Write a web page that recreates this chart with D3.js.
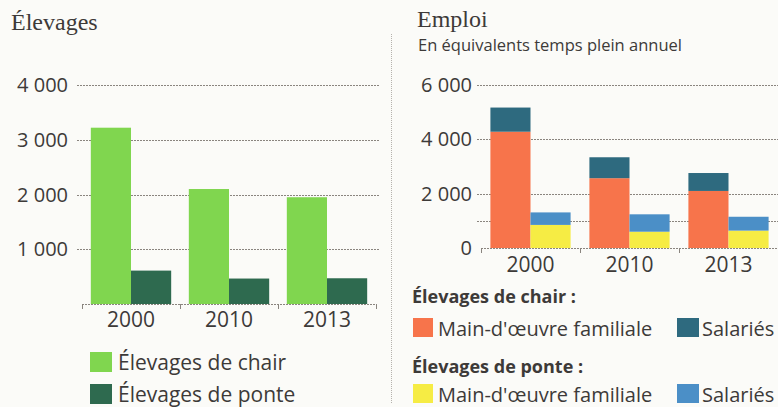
<!DOCTYPE html>
<html lang="fr">
<head>
    <meta charset="UTF-8">
    <title>elevages-emploi</title>
    <script src="https://cdn.jsdelivr.net/npm/d3@7"></script>
    <style>
        body{ margin: 0; background: #fbfbf8; }
        svg{ display: block; }
        .tick-label, .year{ font-family: "Open Sans", sans-serif; fill: #3d3a38; }
        .title{ font-family: "Liberation Serif", "DejaVu Serif", serif; fill: #3d3a38; }
        .legend{ font-family: "Open Sans", sans-serif; fill: #3d3a38; }
    </style>
</head>
<body>
<svg id="chart"></svg>
<script>
    // données
    var years = ['2000', '2010', '2013'];

    // graphique de gauche : nombre d'élevages
    var elevChair = [3220, 2100, 1950];
    var elevPonte = [610, 465, 470];
    var leftTicks = [1000, 2000, 3000, 4000];

    // graphique de droite : emploi (ETP)
    var chairFamille = [4280, 2570, 2100];
    var chairSalaries = [890, 770, 660];
    var ponteFamille = [850, 600, 640];
    var ponteSalaries = [460, 640, 510];
    var rightTicks = [0, 2000, 4000, 6000];
    var rightGrid = [1000, 2000, 4000, 6000];

    var colors = {
        chair: '#80d64f',
        ponte: '#2e6a4f',
        chairFam: '#f7744b',
        chairSal: '#2e6a7f',
        ponteFam: '#f6ec44',
        ponteSal: '#4b8fc7'
    };

    var width = 778, height = 407;
    var svg = d3.select('#chart').attr('width', width).attr('height', height);

    // séparateur
    svg.append('line')
        .attr('x1', 391.5).attr('x2', 391.5)
        .attr('y1', 34).attr('y2', 404)
        .attr('stroke', '#b5b2ad').attr('stroke-width', 1)
        .attr('stroke-dasharray', '1,1');

    function gridLines(g, y, values, x0, x1) {
        g.selectAll('.grid')
            .data(values)
            .enter()
            .append('line')
            .attr('class', 'grid')
            .attr('x1', x0).attr('x2', x1)
            .attr('y1', function (d) { return Math.round(y(d)) + 0.5; })
            .attr('y2', function (d) { return Math.round(y(d)) + 0.5; })
            .attr('stroke', '#8a857f')
            .attr('stroke-width', 1)
            .attr('stroke-dasharray', '2,1');
    }

    function tickLabels(g, y, values, xRight) {
        g.selectAll('.tick-label')
            .data(values)
            .enter()
            .append('text')
            .attr('class', 'tick-label')
            .attr('x', xRight)
            .attr('y', function (d) { return y(d) + 7; })
            .attr('text-anchor', 'end')
            .attr('font-size', 20)
            .text(function (d) { return d3.format(',')(d).replace(',', ' '); });
    }

    function baseAxis(g, x, y0, yearY) {
        var r = x.range();
        g.append('line')
            .attr('x1', r[0]).attr('x2', r[1])
            .attr('y1', y0 + 0.5).attr('y2', y0 + 0.5)
            .attr('stroke', '#8a857f')
            .attr('stroke-dasharray', '2,1');
        g.selectAll('.tk')
            .data(d3.range(years.length + 1))
            .enter()
            .append('line')
            .attr('x1', function (i) { return r[0] + i * x.step() + 0.5; })
            .attr('x2', function (i) { return r[0] + i * x.step() + 0.5; })
            .attr('y1', y0).attr('y2', y0 + 5)
            .attr('stroke', '#8a857f');
        g.selectAll('.year')
            .data(years)
            .enter()
            .append('text')
            .attr('class', 'year')
            .attr('x', function (d) { return x(d) + x.bandwidth() / 2; })
            .attr('y', yearY)
            .attr('text-anchor', 'middle')
            .attr('font-size', 21)
            .text(function (d) { return d; });
    }

    // ---------- gauche ----------
    var left = svg.append('g');
    left.append('text').attr('class', 'title')
        .attr('x', 11).attr('y', 30).attr('font-size', 24)
        .text('Élevages');

    var xL = d3.scaleBand().domain(years).range([82, 376])
        .paddingInner(0.18).paddingOuter(0.09);
    var subL = d3.scaleBand().domain(['chair', 'ponte']).range([0, xL.bandwidth()]).padding(0);
    var yL = d3.scaleLinear().domain([0, 4000]).range([304, 85]);

    gridLines(left, yL, leftTicks, 77, 380);
    tickLabels(left, yL, leftTicks, 68);

    var leftSeries = [
        { key: 'chair', values: elevChair },
        { key: 'ponte', values: elevPonte }
    ];
    leftSeries.forEach(function (s) {
        left.selectAll('.bar-' + s.key)
            .data(years)
            .enter()
            .append('rect')
            .attr('x', function (d) { return xL(d) + subL(s.key); })
            .attr('width', subL.bandwidth())
            .attr('y', function (d, i) { return yL(s.values[i]); })
            .attr('height', function (d, i) { return yL(0) - yL(s.values[i]); })
            .attr('fill', colors[s.key]);
    });
    baseAxis(left, xL, 304, 327);

    var legL = [
        { label: 'Élevages de chair', color: colors.chair, y: 352 },
        { label: 'Élevages de ponte', color: colors.ponte, y: 384 }
    ];
    legL.forEach(function (l) {
        left.append('rect').attr('x', 90).attr('y', l.y).attr('width', 22).attr('height', 20).attr('fill', l.color);
        left.append('text').attr('class', 'legend').attr('x', 118).attr('y', l.y + 18)
            .attr('font-size', 21).text(l.label);
    });

    // ---------- droite ----------
    var right = svg.append('g');
    right.append('text').attr('class', 'title')
        .attr('x', 417).attr('y', 27).attr('font-size', 24)
        .text('Emploi');
    right.append('text').attr('class', 'legend')
        .attr('x', 418).attr('y', 51).attr('font-size', 16.5)
        .text('En équivalents temps plein annuel');

    var xR = d3.scaleBand().domain(years).range([481, 778])
        .paddingInner(0.19).paddingOuter(0.095);
    var subR = d3.scaleBand().domain(['chair', 'ponte']).range([0, xR.bandwidth()]).padding(0);
    var yR = d3.scaleLinear().domain([0, 6000]).range([248, 85]);

    gridLines(right, yR, rightGrid, 477, 778);
    tickLabels(right, yR, rightTicks, 472);

    var stackR = [
        { group: 'chair', key: 'chairFam', values: chairFamille, base: null },
        { group: 'chair', key: 'chairSal', values: chairSalaries, base: chairFamille },
        { group: 'ponte', key: 'ponteFam', values: ponteFamille, base: null },
        { group: 'ponte', key: 'ponteSal', values: ponteSalaries, base: ponteFamille }
    ];
    stackR.forEach(function (s) {
        right.selectAll('.bar-' + s.key)
            .data(years)
            .enter()
            .append('rect')
            .attr('x', function (d) { return xR(d) + subR(s.group); })
            .attr('width', subR.bandwidth())
            .attr('y', function (d, i) {
                var b = s.base ? s.base[i] : 0;
                return yR(b + s.values[i]);
            })
            .attr('height', function (d, i) {
                var b = s.base ? s.base[i] : 0;
                return yR(b) - yR(b + s.values[i]);
            })
            .attr('fill', colors[s.key]);
    });
    baseAxis(right, xR, 248, 272);

    var legR = [
        { head: 'Élevages de chair :', headY: 303, y: 318, fam: colors.chairFam, sal: colors.chairSal },
        { head: 'Élevages de ponte :', headY: 373, y: 384, fam: colors.ponteFam, sal: colors.ponteSal }
    ];
    legR.forEach(function (l) {
        right.append('text').attr('class', 'legend').attr('x', 412).attr('y', l.headY)
            .attr('font-size', 18).attr('font-weight', 'bold').text(l.head);
        right.append('rect').attr('x', 413).attr('y', l.y).attr('width', 20).attr('height', 19).attr('fill', l.fam);
        right.append('text').attr('class', 'legend').attr('x', 438).attr('y', l.y + 18)
            .attr('font-size', 20).text("Main-d'œuvre familiale");
        right.append('rect').attr('x', 677).attr('y', l.y).attr('width', 22).attr('height', 19).attr('fill', l.sal);
        right.append('text').attr('class', 'legend').attr('x', 702).attr('y', l.y + 18)
            .attr('font-size', 20).text('Salariés');
    });
</script>
</body>
</html>
